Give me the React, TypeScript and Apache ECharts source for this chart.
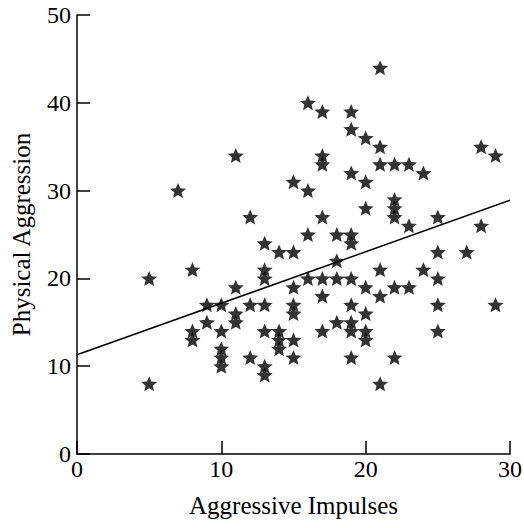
import React, { useEffect, useRef } from "react";
import * as echarts from "echarts";

// Aggressive Impulses (x) vs Physical Aggression (y)
const impulses: number[] = [
  5, 5, 7, 8, 8, 8, 9, 9,
  10, 10, 10, 10, 10,
  11, 11, 11, 11,
  12, 12, 12,
  13, 13, 13, 13, 13, 13, 13,
  14, 14, 14, 14,
  15, 15, 15, 15, 15, 15, 15,
  16, 16, 16, 16,
  17, 17, 17, 17, 17, 17, 17,
  18, 18, 18, 18,
  19, 19, 19, 19, 19, 19, 19, 19, 19, 19,
  20, 20, 20, 20, 20, 20, 20,
  21, 21, 21, 21, 21, 21,
  22, 22, 22, 22, 22, 22,
  23, 23, 23,
  24, 24,
  25, 25, 25, 25, 25,
  27, 28, 28, 29, 29,
];
const aggression: number[] = [
  20, 8, 30, 21, 14, 13, 17, 15,
  17, 14, 12, 11, 10,
  34, 19, 16, 15,
  27, 17, 11,
  24, 21, 20, 17, 14, 10, 9,
  23, 14, 13, 12,
  31, 23, 19, 17, 16, 13, 11,
  40, 30, 25, 20,
  39, 34, 33, 27, 20, 18, 14,
  25, 22, 20, 15,
  39, 37, 32, 25, 24, 20, 17, 15, 14, 11,
  36, 31, 28, 19, 16, 14, 13,
  44, 35, 33, 21, 18, 8,
  33, 29, 28, 27, 19, 11,
  33, 26, 19,
  32, 21,
  27, 23, 20, 17, 14,
  23, 35, 26, 34, 17,
];
// Fitted line: [x, y] at both ends
const fitX: number[] = [0, 30];
const fitY: number[] = [11.3, 28.9];

const xTicks = [0, 10, 20, 30];
const yTicks = [0, 10, 20, 30, 40, 50];

function starPath(): string {
  const pts: string[] = [];
  const outer = 10;
  const inner = 4.5;
  for (let i = 0; i < 10; i++) {
    const r = i % 2 === 0 ? outer : inner;
    const a = -Math.PI / 2 + (i * Math.PI) / 5;
    pts.push(`${(r * Math.cos(a)).toFixed(3)} ${(r * Math.sin(a)).toFixed(3)}`);
  }
  return "path://M" + pts.join(" L") + " Z";
}

export default function App() {
  const ref = useRef<HTMLDivElement>(null);
  useEffect(() => {
    if (!ref.current) return;
    const chart = echarts.init(ref.current, undefined, { renderer: "svg" });
    const font = "Liberation Serif";
    const points = impulses.map((x, i) => [x, aggression[i]]);
    chart.setOption({
      animation: false,
      backgroundColor: "#ffffff",
      grid: {
        left: 77,
        right: 14,
        top: 15,
        bottom: 74,
        containLabel: false,
        outerBoundsMode: "none",
      },
      xAxis: {
        type: "value",
        min: xTicks[0],
        max: xTicks[xTicks.length - 1],
        interval: 10,
        name: "Aggressive Impulses",
        nameLocation: "middle",
        nameGap: 39,
        nameTextStyle: { fontFamily: font, fontSize: 25, color: "#000" },
        axisLine: { show: true, lineStyle: { color: "#000", width: 1.5 } },
        axisTick: { show: true, inside: true, length: 13, lineStyle: { color: "#000", width: 1.5 } },
        axisLabel: { fontFamily: font, fontSize: 24, color: "#000", margin: 3 },
        splitLine: { show: false },
      },
      yAxis: {
        type: "value",
        min: yTicks[0],
        max: yTicks[yTicks.length - 1],
        interval: 10,
        name: "Physical Aggression",
        nameLocation: "middle",
        nameGap: 43,
        nameTextStyle: { fontFamily: font, fontSize: 25, color: "#000" },
        axisLine: { show: true, lineStyle: { color: "#000", width: 1.5 } },
        axisTick: { show: true, inside: true, length: 13, lineStyle: { color: "#000", width: 1.5 } },
        axisLabel: { fontFamily: font, fontSize: 24, color: "#000", margin: 6 },
        splitLine: { show: false },
      },
      series: [
        {
          type: "line",
          data: fitX.map((x, i) => [x, fitY[i]]),
          showSymbol: false,
          symbol: "none",
          lineStyle: { color: "#000", width: 1.5 },
          silent: true,
          z: 1,
        },
        {
          type: "scatter",
          data: points,
          symbol: starPath(),
          symbolSize: [16, 15],
          itemStyle: { color: "#000" },
          z: 2,
        },
      ],
    });
    return () => chart.dispose();
  }, []);
  return (
    <div
      ref={ref}
      style={{ position: "absolute", left: 0, top: 0, width: 524, height: 528 }}
    />
  );
}
